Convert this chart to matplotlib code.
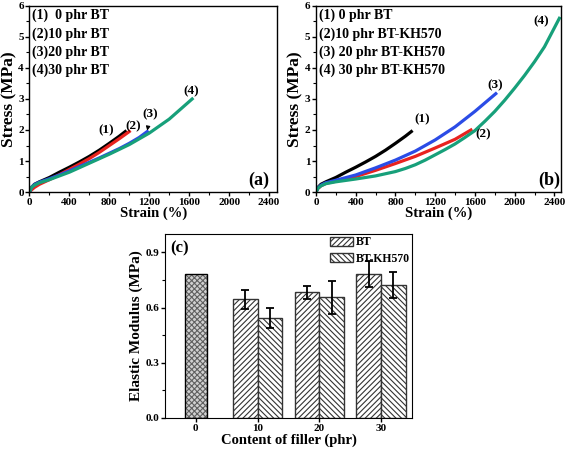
import matplotlib.pyplot as plt
from matplotlib.ticker import MultipleLocator

plt.rcParams['font.family'] = ['Liberation Serif', 'DejaVu Serif']
plt.rcParams['font.weight'] = 'bold'
plt.rcParams['axes.labelweight'] = 'bold'
plt.rcParams['hatch.linewidth'] = 0.8

# ---- panel (a): stress-strain, BT
a1_x = [0, 20, 50, 100, 200, 300, 400, 500, 600, 700, 800, 900, 960]
a1_y = [0, 0.15, 0.25, 0.33, 0.47, 0.64, 0.8, 0.97, 1.15, 1.35, 1.57, 1.8, 1.95]
a2_x = [0, 20, 50, 100, 200, 300, 400, 500, 600, 700, 800, 900, 1000]
a2_y = [0, 0.07, 0.15, 0.25, 0.4, 0.56, 0.73, 0.9, 1.08, 1.28, 1.5, 1.72, 1.95]
a3_x = [0, 20, 50, 100, 200, 300, 400, 500, 600, 700, 800, 900, 1000, 1100, 1180]
a3_y = [0, 0.15, 0.24, 0.32, 0.43, 0.55, 0.68, 0.82, 0.96, 1.1, 1.25, 1.4, 1.57, 1.76, 1.95]
a4_x = [0, 20, 50, 100, 200, 300, 400, 600, 800, 1000, 1200, 1400, 1630]
a4_y = [0, 0.15, 0.22, 0.3, 0.4, 0.52, 0.64, 0.93, 1.22, 1.53, 1.9, 2.35, 3.0]

# ---- panel (b): stress-strain, BT-KH570
b1_x = a1_x
b1_y = a1_y
b2_x = [0, 20, 50, 100, 200, 400, 600, 800, 1000, 1200, 1400, 1560]
b2_y = [0, 0.12, 0.2, 0.28, 0.35, 0.5, 0.7, 0.92, 1.15, 1.42, 1.7, 2.0]
b3_x = [0, 20, 50, 100, 200, 400, 600, 800, 1000, 1200, 1400, 1600, 1810]
b3_y = [0, 0.13, 0.22, 0.3, 0.38, 0.55, 0.78, 1.03, 1.32, 1.68, 2.1, 2.6, 3.17]
b4_x = [0, 20, 50, 100, 200, 400, 600, 800, 900, 1000, 1100, 1200, 1300, 1400, 1500, 1600,
        1700, 1800, 1900, 2000, 2100, 2200, 2300, 2450]
b4_y = [0, 0.12, 0.2, 0.27, 0.33, 0.42, 0.52, 0.66, 0.76, 0.88, 1.03, 1.2, 1.37, 1.55, 1.76, 1.98,
        2.28, 2.6, 2.96, 3.35, 3.76, 4.2, 4.68, 5.6]

labels_a = ['(1)  0 phr BT', '(2)10 phr BT', '(3)20 phr BT', '(4)30 phr BT']
labels_b = ['(1) 0 phr BT', '(2)10 phr BT-KH570', '(3) 20 phr BT-KH570', '(4) 30 phr BT-KH570']

# ---- panel (c): elastic modulus
filler = [0, 10, 20, 30]
mod_pure = 0.785
mod_bt = [0.646, 0.684, 0.782]
err_bt = [0.052, 0.035, 0.071]
mod_kh = [0.545, 0.655, 0.723]
err_kh = [0.054, 0.088, 0.07]

colors = ['black', '#e8231f', '#2b4ce6', '#17a07a']

fig = plt.figure(figsize=(5.67, 4.54), dpi=100)
ax_a = fig.add_axes([0.052, 0.577, 0.4365, 0.41])
ax_b = fig.add_axes([0.5573, 0.577, 0.4327, 0.41])
ax_c = fig.add_axes([0.291, 0.0793, 0.4356, 0.4053])


def style_curve_axes(ax, xmax):
    ax.set_xlim(0, xmax)
    ax.set_ylim(0, 6)
    ax.xaxis.set_major_locator(MultipleLocator(400))
    ax.xaxis.set_minor_locator(MultipleLocator(200))
    ax.yaxis.set_major_locator(MultipleLocator(1))
    ax.yaxis.set_minor_locator(MultipleLocator(0.5))
    ax.tick_params(which='major', length=3, width=1, labelsize=8, pad=1)
    ax.tick_params(which='minor', length=2, width=0.8)
    for lab in ax.get_xticklabels() + ax.get_yticklabels():
        lab.set_fontweight('bold')
    for s in ax.spines.values():
        s.set_linewidth(1.0)
    ax.set_xlabel('Strain (%)', fontsize=10.5, labelpad=0)
    ax.set_ylabel('Stress (MPa)', fontsize=12.5, labelpad=1)


# panel (a)
for xs, ys, c in zip([a1_x, a2_x, a3_x, a4_x], [a1_y, a2_y, a3_y, a4_y], colors):
    ax_a.plot(xs, ys, color=c, lw=2.3)
style_curve_axes(ax_a, 2480)
for i, t in enumerate(labels_a):
    ax_a.text(30, 5.69 - 0.59 * i, t, fontsize=10, fontweight='bold', va='center')
ax_a.text(773, 2.0, '(1)', fontsize=9.5, fontweight='bold', ha='center', va='center')
ax_a.text(1040, 2.13, '(2)', fontsize=9.5, fontweight='bold', ha='center', va='center')
ax_a.annotate('(3)', xy=(1180, 1.98), xytext=(1213, 2.52), fontsize=9.5, fontweight='bold',
              ha='center', va='center', arrowprops=dict(arrowstyle='-|>', lw=0.8, color='black',
                                                        mutation_scale=6, shrinkA=4, shrinkB=0))
ax_a.text(1623, 3.24, '(4)', fontsize=9.5, fontweight='bold', ha='center', va='center')
ax_a.text(2300, 0.39, '(a)', fontsize=13, fontweight='bold', ha='center', va='center')

# panel (b)
for xs, ys, c in zip([b1_x, b2_x, b3_x, b4_x], [b1_y, b2_y, b3_y, b4_y], colors):
    ax_b.plot(xs, ys, color=c, lw=2.3)
style_curve_axes(ax_b, 2470)
for i, t in enumerate(labels_b):
    ax_b.text(30, 5.69 - 0.59 * i, t, fontsize=10, fontweight='bold', va='center')
ax_b.text(1072, 2.35, '(1)', fontsize=9.5, fontweight='bold', ha='center', va='center')
ax_b.text(1683, 1.86, '(2)', fontsize=9.5, fontweight='bold', ha='center', va='center')
ax_b.text(1808, 3.45, '(3)', fontsize=9.5, fontweight='bold', ha='center', va='center')
ax_b.text(2270, 5.52, '(4)', fontsize=9.5, fontweight='bold', ha='center', va='center')
ax_b.text(2350, 0.39, '(b)', fontsize=13, fontweight='bold', ha='center', va='center')

# panel (c)
w = 4
ax_c.bar(filler[0], mod_pure, width=3.6, color='#d0d0d0', edgecolor='#606060', hatch='xxxxxx', lw=0)
ax_c.bar(filler[0], mod_pure, width=3.6, fill=False, edgecolor='black', lw=1)
ax_c.bar([f - w / 2 for f in filler[1:]], mod_bt, width=w, color='white', edgecolor='#333333',
         hatch='//////', lw=1, label='BT')
ax_c.bar([f + w / 2 for f in filler[1:]], mod_kh, width=w, color='white', edgecolor='#333333',
         hatch='\\\\\\\\\\\\', lw=1, label='BT-KH570')
ax_c.errorbar([f - w / 2 for f in filler[1:]], mod_bt, yerr=err_bt, fmt='none', ecolor='black',
              elinewidth=1.3, capsize=3, capthick=1.3)
ax_c.errorbar([f + w / 2 for f in filler[1:]], mod_kh, yerr=err_kh, fmt='none', ecolor='black',
              elinewidth=1.3, capsize=3, capthick=1.3)
ax_c.set_xlim(-5, 35)
ax_c.set_ylim(0, 1.0)
ax_c.set_xticks(filler)
ax_c.yaxis.set_major_locator(MultipleLocator(0.3))
ax_c.yaxis.set_minor_locator(MultipleLocator(0.15))
ax_c.tick_params(which='major', length=3, width=1, labelsize=8, pad=1)
ax_c.tick_params(which='minor', length=2, width=0.8)
ax_c.set_yticklabels(['%.1f' % v for v in ax_c.get_yticks()])
for lab in ax_c.get_xticklabels() + ax_c.get_yticklabels():
    lab.set_fontweight('bold')
ax_c.set_xlabel('Content of filler (phr)', fontsize=10.5, labelpad=1)
ax_c.set_ylabel('Elastic Modulus (MPa)', fontsize=11, labelpad=2)
ax_c.text(-4.2, 0.92, '(c)', fontsize=12, fontweight='bold', va='center')
leg = ax_c.legend(loc='upper right', frameon=False, fontsize=8.5, handlelength=2.0, handleheight=0.8,
                  handletextpad=0.2, borderaxespad=0.0, borderpad=0.2, labelspacing=0.4)
for t in leg.get_texts():
    t.set_fontweight('bold')

fig.savefig('out.png', dpi=100)
